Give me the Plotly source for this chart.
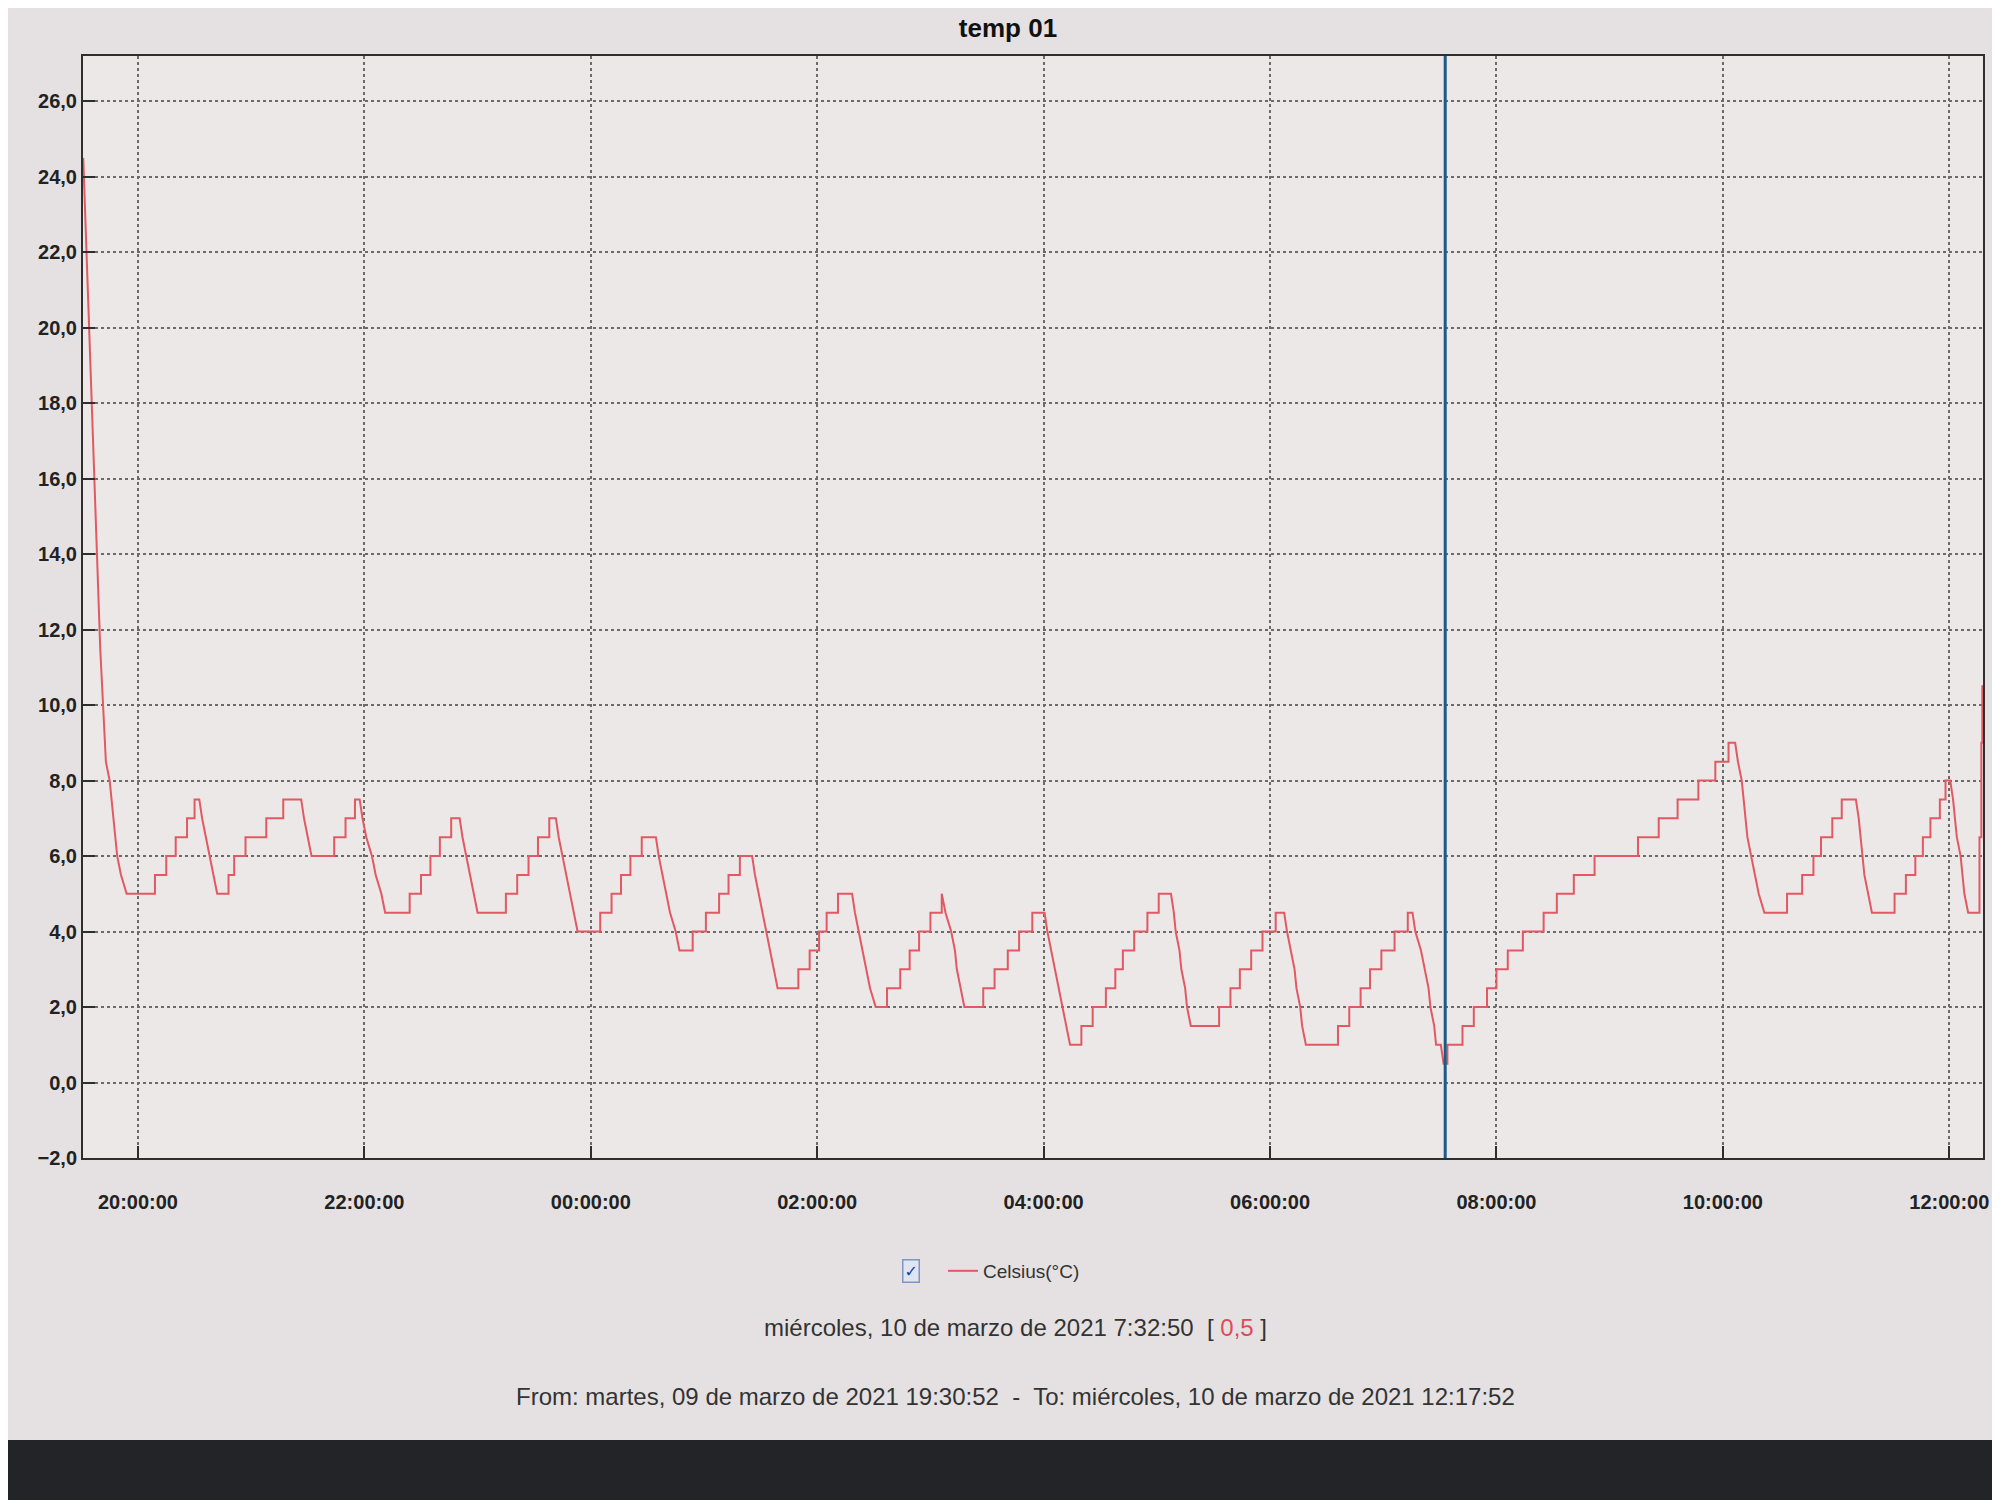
import plotly.graph_objects as go
from datetime import datetime, timedelta

# ---------------- data ----------------
TITLE = "temp 01"
SERIES_NAME = "Celsius(°C)"
START = "2021-03-09 19:30:52"
END = "2021-03-10 12:17:52"
CURSOR_TIME = "2021-03-10 07:32:50"
CURSOR_VALUE = "0,5"
CURSOR_LABEL = "miércoles, 10 de marzo de 2021 7:32:50"
RANGE_LABEL = "From: martes, 09 de marzo de 2021 19:30:52  -  To: miércoles, 10 de marzo de 2021 12:17:52"

# reading times (HH:MM[:SS]) and temperatures (°C)
TIMES = [
    "19:31", "19:32", "19:33", "19:34", "19:35", "19:36", "19:37", "19:38", "19:39", "19:40",
    "19:41", "19:42", "19:43", "19:45", "19:46", "19:47", "19:48", "19:49", "19:51", "19:54",
    "20:09", "20:15", "20:20", "20:26", "20:30", "20:34", "20:36", "20:38", "20:40", "20:42",
    "20:48", "20:51", "20:57", "21:08", "21:17", "21:28", "21:30", "21:32", "21:44", "21:50",
    "21:55", "21:59", "22:01", "22:04", "22:06", "22:09", "22:11", "22:24", "22:30", "22:35",
    "22:40", "22:46", "22:52", "22:54", "22:56", "22:58", "23:00", "23:15", "23:21", "23:27",
    "23:32", "23:38", "23:43", "23:45", "23:47", "23:49", "23:51", "23:53", "00:05", "00:11",
    "00:16", "00:21", "00:27", "00:36", "00:38", "00:40", "00:42", "00:45", "00:47", "00:54",
    "01:01", "01:08", "01:13", "01:19", "01:27", "01:29", "01:31", "01:33", "01:35", "01:37",
    "01:39", "01:50", "01:56", "02:01", "02:05", "02:11", "02:20", "02:22", "02:24", "02:26",
    "02:28", "02:31", "02:37", "02:44", "02:49", "02:54", "03:00", "03:06", "03:08", "03:11",
    "03:13", "03:14", "03:16", "03:18", "03:28", "03:34", "03:41", "03:47", "03:54", "04:02",
    "04:04", "04:06", "04:08", "04:10", "04:12", "04:14", "04:20", "04:26", "04:33", "04:38",
    "04:42", "04:48", "04:55", "05:01", "05:09", "05:10", "05:12", "05:13", "05:15", "05:16",
    "05:18", "05:33", "05:39", "05:44", "05:50", "05:56", "06:03", "06:09", "06:11", "06:13",
    "06:14", "06:16", "06:17", "06:19", "06:36", "06:42", "06:48", "06:53", "06:59", "07:06",
    "07:13", "07:17", "07:20", "07:22", "07:24", "07:25", "07:27", "07:28", "07:32", "07:34",
    "07:42", "07:48", "07:55", "08:00", "08:06", "08:14", "08:25", "08:32", "08:41", "08:52",
    "09:15", "09:26", "09:36", "09:47", "09:56", "10:03", "10:08", "10:10", "10:11", "10:12",
    "10:13", "10:15", "10:17", "10:19", "10:22", "10:34", "10:42", "10:48", "10:52", "10:58",
    "11:03", "11:12", "11:13", "11:14", "11:15", "11:17", "11:19", "11:31", "11:37", "11:42",
    "11:46", "11:50", "11:55", "11:58", "12:02", "12:03", "12:04", "12:06", "12:07", "12:08",
    "12:10", "12:16", "12:17", "12:17:30", "12:17:52",
]
TEMPS = [
    24.5, 23.0, 21.5, 20.0, 18.5, 17.0, 15.5, 14.0, 12.5, 11.5,
    10.5, 9.5, 8.5, 8.0, 7.5, 7.0, 6.5, 6.0, 5.5, 5.0,
    5.5, 6.0, 6.5, 7.0, 7.5, 7.0, 6.5, 6.0, 5.5, 5.0,
    5.5, 6.0, 6.5, 7.0, 7.5, 7.0, 6.5, 6.0, 6.5, 7.0,
    7.5, 7.0, 6.5, 6.0, 5.5, 5.0, 4.5, 5.0, 5.5, 6.0,
    6.5, 7.0, 6.5, 6.0, 5.5, 5.0, 4.5, 5.0, 5.5, 6.0,
    6.5, 7.0, 6.5, 6.0, 5.5, 5.0, 4.5, 4.0, 4.5, 5.0,
    5.5, 6.0, 6.5, 6.0, 5.5, 5.0, 4.5, 4.0, 3.5, 4.0,
    4.5, 5.0, 5.5, 6.0, 5.5, 5.0, 4.5, 4.0, 3.5, 3.0,
    2.5, 3.0, 3.5, 4.0, 4.5, 5.0, 4.5, 4.0, 3.5, 3.0,
    2.5, 2.0, 2.5, 3.0, 3.5, 4.0, 4.5, 5.0, 4.5, 4.0,
    3.5, 3.0, 2.5, 2.0, 2.5, 3.0, 3.5, 4.0, 4.5, 4.0,
    3.5, 3.0, 2.5, 2.0, 1.5, 1.0, 1.5, 2.0, 2.5, 3.0,
    3.5, 4.0, 4.5, 5.0, 4.5, 4.0, 3.5, 3.0, 2.5, 2.0,
    1.5, 2.0, 2.5, 3.0, 3.5, 4.0, 4.5, 4.0, 3.5, 3.0,
    2.5, 2.0, 1.5, 1.0, 1.5, 2.0, 2.5, 3.0, 3.5, 4.0,
    4.5, 4.0, 3.5, 3.0, 2.5, 2.0, 1.5, 1.0, 0.5, 1.0,
    1.5, 2.0, 2.5, 3.0, 3.5, 4.0, 4.5, 5.0, 5.5, 6.0,
    6.5, 7.0, 7.5, 8.0, 8.5, 9.0, 8.5, 8.0, 7.5, 7.0,
    6.5, 6.0, 5.5, 5.0, 4.5, 5.0, 5.5, 6.0, 6.5, 7.0,
    7.5, 7.0, 6.5, 6.0, 5.5, 5.0, 4.5, 5.0, 5.5, 6.0,
    6.5, 7.0, 7.5, 8.0, 7.5, 7.0, 6.5, 6.0, 5.5, 5.0,
    4.5, 6.5, 9.0, 10.5, 10.5,
]
Y_TICKS = [-2, 0, 2, 4, 6, 8, 10, 12, 14, 16, 18, 20, 22, 24, 26]


def to_dt(hm):
    parts = hm.split(":")
    if len(parts) == 2:
        hm = hm + ":00"
    day = "2021-03-09" if int(parts[0]) >= 19 else "2021-03-10"
    return datetime.strptime(f"{day} {hm}", "%Y-%m-%d %H:%M:%S")


# Trace path: rises are drawn as vertical steps, falls as sloped segments
# (as the logger's chart renders them).
times = [to_dt(t) for t in TIMES]
px, py = [times[0]], [TEMPS[0]]
for i in range(1, len(times)):
    t_prev, v_prev = times[i - 1], TEMPS[i - 1]
    t, v = times[i], TEMPS[i]
    if v > v_prev:
        px += [t, t]
        py += [v_prev, v]
    elif v < v_prev:
        gap = t - t_prev
        if gap > timedelta(minutes=3):
            px.append(t - timedelta(minutes=1.5))
            py.append(v_prev)
        px.append(t)
        py.append(v)
    else:
        px.append(t)
        py.append(v)

PAPER = "#e5e1e2"
PLOT_BG = "#ebe8e7"
GRID = "#6b6b6b"
AXIS = "#2e2e2e"
RED = "#e25863"

fig = go.Figure()
fig.add_trace(go.Scatter(
    x=px, y=py, mode="lines", name=SERIES_NAME,
    line=dict(color=RED, width=2, shape="linear"),
))

# cursor line
fig.add_shape(type="line", xref="x", yref="paper", x0=CURSOR_TIME, x1=CURSOR_TIME,
              y0=0, y1=1, line=dict(color="#1d5a88", width=3))

# dark monitor bezel at the bottom
fig.add_shape(type="rect", xref="paper", yref="paper", x0=-0.06, x1=1.06,
              y0=-0.34, y1=-0.256, line=dict(width=0), fillcolor="#232428", layer="below")

tick_font = dict(family="Liberation Sans, Arial, sans-serif", size=20, color="#222222", weight="bold")

fig.update_layout(
    width=2000, height=1500,
    paper_bgcolor=PAPER, plot_bgcolor=PLOT_BG,
    margin=dict(l=75, r=25, t=48, b=350),
    separators=",.",
    title=dict(text=TITLE, x=0.5, xanchor="center", y=0.993, yanchor="top",
               font=dict(family="Liberation Sans, Arial, sans-serif", size=26, color="#111111", weight="bold")),
    showlegend=True,
    legend=dict(orientation="h", x=0.49, xanchor="center", y=-0.1025, yanchor="middle",
                bgcolor="rgba(0,0,0,0)",
                font=dict(family="Liberation Sans, Arial, sans-serif", size=19, color="#333333")),
    xaxis=dict(
        type="date", range=[START, END],
        tick0="2021-03-09 20:00:00", dtick=7200000, tickformat="%H:%M:%S",
        showgrid=True, gridcolor=GRID, griddash="dot", gridwidth=1.5,
        showline=True, linecolor=AXIS, linewidth=2, mirror=True,
        ticks="inside", ticklen=12, tickcolor=AXIS, tickwidth=2,
        tickfont=tick_font, ticklabelstandoff=25, zeroline=False,
    ),
    yaxis=dict(
        range=[-2, 27.2], tickvals=Y_TICKS, tickformat=".1f",
        showgrid=True, gridcolor=GRID, griddash="dot", gridwidth=1.5,
        showline=True, linecolor=AXIS, linewidth=2, mirror=True,
        ticks="inside", ticklen=12, tickcolor=AXIS, tickwidth=2,
        tickfont=tick_font, zeroline=False,
    ),
    annotations=[
        dict(xref="paper", yref="paper", x=0.436, y=-0.1025, text="✓", showarrow=False,
             font=dict(size=16, color="#1b3fa0", family="DejaVu Sans"),
             bordercolor="#7f95c2", borderwidth=1.5, bgcolor="#dfe5f1", borderpad=1,
             xanchor="center", yanchor="middle"),
        dict(xref="paper", yref="paper", x=0.491, y=-0.154,
             text=f"{CURSOR_LABEL}  [ <span style='color:#e04a55'>{CURSOR_VALUE}</span> ]",
             showarrow=False, xanchor="center", yanchor="middle",
             font=dict(family="Liberation Sans, Arial, sans-serif", size=24, color="#333333")),
        dict(xref="paper", yref="paper", x=0.491, y=-0.216, text=RANGE_LABEL,
             showarrow=False, xanchor="center", yanchor="middle",
             font=dict(family="Liberation Sans, Arial, sans-serif", size=24, color="#333333")),
    ],
)

fig.write_html("out.html")
